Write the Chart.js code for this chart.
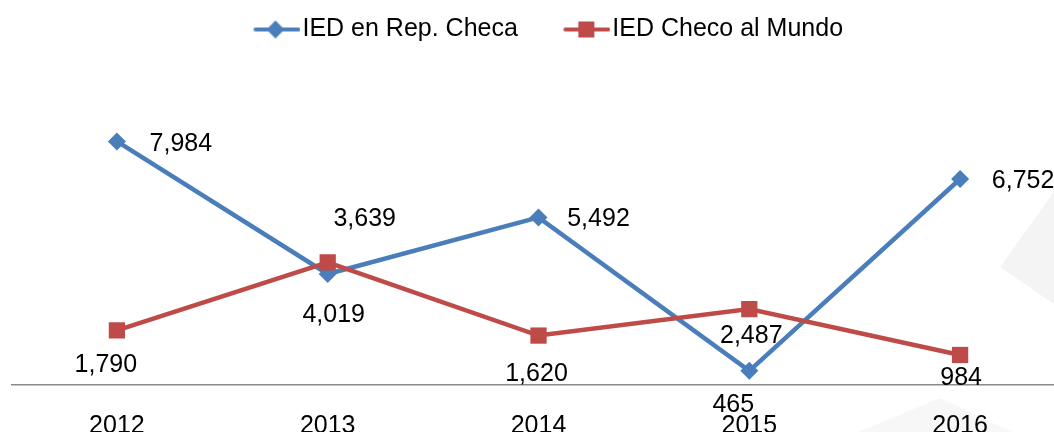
<!DOCTYPE html>
<html>
<head>
<meta charset="utf-8">
<script src="https://cdn.jsdelivr.net/npm/chart.js@4/dist/chart.umd.min.js"></script>
<style>
  html, body { margin: 0; padding: 0; background: #fff; overflow: hidden; }
  #wrap { width: 1054px; height: 432px; overflow: hidden; }
</style>
</head>
<body>
<div id="wrap"><canvas id="iedChart" width="1077" height="432"></canvas></div>
<script>
// Data
const years = ['2012', '2013', '2014', '2015', '2016'];
const iedEnRep = [7984, 3639, 5492, 465, 6752];
const iedChecoMundo = [1790, 4019, 1620, 2487, 984];

const blue = '#4a7ebb';
const red = '#be4b48';
const FONT = "'Liberation Sans', Arial, sans-serif";

// label offsets (dx, dy) from each point, like the manual placement in the original
const labelOffsets = [
    [[64, 3], [37, -55], [60, 2], [-16, 34], [63, 2]],
    [[-11, 35], [6, 53], [-2, 39], [2, 27], [1, 23]]
];

// legend swatch: line with marker, drawn in the right part of a wider image
function legendSwatch(color, shape) {
    const c = document.createElement('canvas');
    c.width = 69; c.height = 20;
    const g = c.getContext('2d');
    const x0 = 22;
    g.strokeStyle = color;
    g.lineWidth = 4;
    g.lineCap = 'round';
    g.beginPath(); g.moveTo(x0 + 2, 10); g.lineTo(x0 + 45, 10); g.stroke();
    g.fillStyle = color;
    g.beginPath();
    if (shape === 'diamond') {
        g.moveTo(x0 + 22, 1); g.lineTo(x0 + 31, 10); g.lineTo(x0 + 22, 19); g.lineTo(x0 + 13, 10);
    } else {
        g.rect(x0 + 15, 2, 16, 16);
    }
    g.fill();
    return c;
}

const valueLabels = {
    id: 'valueLabels',
    afterDatasetsDraw(chart) {
        const ctx = chart.ctx;
        ctx.save();
        ctx.font = '25px ' + FONT;
        ctx.fillStyle = '#000';
        ctx.textAlign = 'center';
        ctx.textBaseline = 'middle';
        chart.data.datasets.forEach((ds, di) => {
            const meta = chart.getDatasetMeta(di);
            meta.data.forEach((pt, i) => {
                const off = labelOffsets[di][i];
                ctx.fillText(ds.data[i].toLocaleString('en-US'), pt.x + off[0], pt.y + off[1]);
            });
        });
        ctx.restore();
    }
};

const backdrop = {
    id: 'backdrop',
    beforeDraw(chart) {
        const ctx = chart.ctx;
        ctx.save();
        ctx.fillStyle = '#f4f4f4';
        ctx.beginPath();
        ctx.moveTo(1000, 267); ctx.lineTo(1077, 160); ctx.lineTo(1077, 320);
        ctx.closePath(); ctx.fill();
        ctx.fillStyle = '#f7f7f7';
        ctx.beginPath();
        ctx.moveTo(940, 398); ctx.lineTo(1012, 432); ctx.lineTo(858, 432);
        ctx.closePath(); ctx.fill();
        ctx.restore();
    }
};

new Chart(document.getElementById('iedChart'), {
    type: 'line',
    data: {
        labels: years,
        datasets: [
            {
                label: 'IED en Rep. Checa',
                data: iedEnRep,
                borderColor: blue,
                backgroundColor: blue,
                borderWidth: 4.5,
                pointStyle: 'rectRot',
                pointRadius: 9,
                pointBorderWidth: 0,
                tension: 0,
                order: 1
            },
            {
                label: 'IED Checo al Mundo',
                data: iedChecoMundo,
                borderColor: red,
                backgroundColor: red,
                borderWidth: 4.5,
                pointStyle: 'rect',
                pointRadius: 11.5,
                pointBorderWidth: 0,
                tension: 0,
                order: 0
            }
        ]
    },
    options: {
        responsive: false,
        animation: false,
        layout: { padding: { top: -17, left: 8, right: 0, bottom: 0 } },
        plugins: {
            tooltip: { enabled: false },
            legend: {
                position: 'top',
                labels: {
                    usePointStyle: true,
                    pointStyleWidth: 48,
                    padding: 34,
                    color: '#000',
                    font: { family: FONT, size: 25 },
                    sort: (a, b) => a.datasetIndex - b.datasetIndex,
                    generateLabels(chart) {
                        return chart.data.datasets.map((ds, i) => ({
                            text: ds.label,
                            datasetIndex: i,
                            fontColor: '#000',
                            pointStyle: legendSwatch(ds.borderColor, i === 0 ? 'diamond' : 'square'),
                            lineWidth: 0,
                            hidden: false
                        }));
                    }
                }
            }
        },
        scales: {
            x: {
                offset: true,
                grid: { display: false, drawTicks: false },
                border: { display: true, color: '#8a8a8a', width: 1.5 },
                ticks: {
                    color: '#000',
                    padding: 26,
                    font: { family: FONT, size: 25 },
                    maxRotation: 0
                },
                afterFit(scale) { scale.height = 47; }
            },
            y: {
                display: false,
                min: 0,
                max: 10915
            }
        }
    },
    plugins: [backdrop, valueLabels]
});
</script>
</body>
</html>
